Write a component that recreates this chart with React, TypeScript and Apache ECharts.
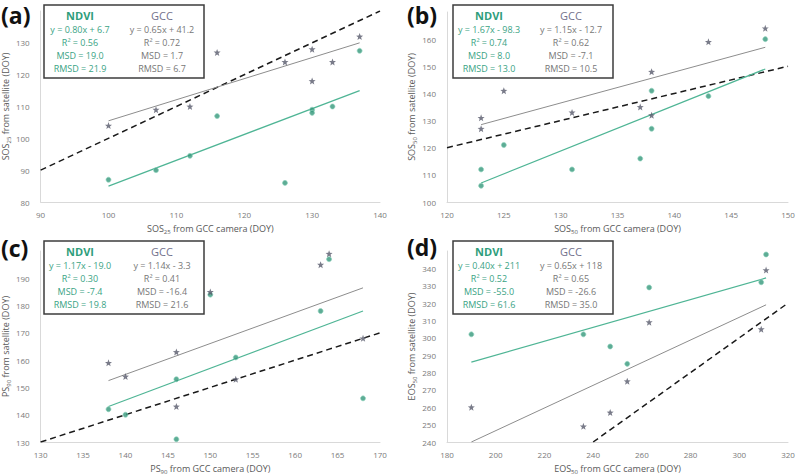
import React, { useEffect, useRef } from "react";
import * as echarts from "echarts";

// ---------- data ----------
// (a) SOS25
const aGcc = [[100, 104], [107, 109], [112, 110], [116, 127], [126, 124], [130, 128], [130, 118], [133, 124], [137, 132]];
const aNdvi = [[100, 87], [107, 90], [112, 94.5], [116, 107], [126, 86], [130, 109], [130, 108], [133, 110], [137, 127.5]];
const aGccFit = [[100, 105.5], [137, 130]];
const aNdviFit = [[100, 85], [137, 115]];
const aOneToOne = [[90, 90], [140, 140]];
const aNdviStats = ["y = 0.80x + 6.7", "R² = 0.56", "MSD = 19.0", "RMSD = 21.9"];
const aGccStats = ["y = 0.65x + 41.2", "R² = 0.72", "MSD = 1.7", "RMSD = 6.7"];

// (b) SOS50
const bGcc = [[123, 131], [123, 127], [125, 141], [131, 133], [137, 135], [138, 148], [138, 132], [143, 159], [148, 164]];
const bNdvi = [[123, 112], [123, 106], [125, 121], [131, 112], [137, 116], [138, 141], [138, 127], [143, 139], [148, 160]];
const bGccFit = [[123, 128.5], [148, 157]];
const bNdviFit = [[123, 107], [148, 149]];
const bOneToOne = [[120, 120], [150, 150]];
const bNdviStats = ["y = 1.67x - 98.3", "R² = 0.74", "MSD = 8.0", "RMSD = 13.0"];
const bGccStats = ["y = 1.15x - 12.7", "R² = 0.62", "MSD = -7.1", "RMSD = 10.5"];

// (c) PS90
const cGcc = [[138, 159], [140, 154], [146, 163], [146, 143], [150, 185], [153, 153], [163, 195], [164, 199], [168, 168]];
const cNdvi = [[138, 142], [140, 140], [146, 153], [146, 131], [150, 184], [153, 161], [163, 178], [164, 197], [168, 146]];
const cGccFit = [[138, 152.5], [168, 186.5]];
const cNdviFit = [[138, 143], [168, 178]];
const cOneToOne = [[130, 130], [170, 170]];
const cNdviStats = ["y = 1.17x - 19.0", "R² = 0.30", "MSD = -7.4", "RMSD = 19.8"];
const cGccStats = ["y = 1.14x - 3.3", "R² = 0.41", "MSD = -16.4", "RMSD = 21.6"];

// (d) EOS50
const dGcc = [[190, 260], [236, 249], [247, 257], [254, 275], [263, 309], [309, 305], [311, 339]];
const dNdvi = [[190, 302], [236, 302], [247, 295], [254, 285], [263, 329], [309, 332], [311, 348]];
const dGccFit = [[190, 240], [311, 319]];
const dNdviFit = [[190, 286], [311, 334.5]];
const dOneToOne = [[240, 240], [320, 320]];
const dNdviStats = ["y = 0.40x + 211", "R² = 0.52", "MSD = -55.0", "RMSD = 61.6"];
const dGccStats = ["y = 0.65x + 118", "R² = 0.65", "MSD = -26.6", "RMSD = 35.0"];

const panelLabels = ["(a)", "(b)", "(c)", "(d)"];
const metricNames = ["SOS", "SOS", "PS", "EOS"];
const metricSubs = ["25", "50", "90", "50"];
const xRanges = [[90, 140, 10], [120, 150, 5], [130, 170, 5], [180, 320, 20]];
const yRanges = [[80, 140, 10], [100, 170, 10], [130, 200, 10], [240, 350, 10]];

const FONT = "'Open Sans', 'Liberation Sans', sans-serif";
const GREEN = "#35977a";
const GREEN_LINE = "#4fb595";
const GREEN_TEXT = "#3aa384";
const GRAY_PT = "#575a6b";
const GRAY_LINE = "#8d8d8d";
const GCC_TEXT = "#72728c";
const STAR = "path://M0,-1 L0.25,-0.33 L0.95,-0.31 L0.4,0.12 L0.59,0.81 L0,0.42 L-0.59,0.81 L-0.4,0.12 L-0.95,-0.31 L-0.25,-0.33 Z";

const panels = [
  { gcc: aGcc, ndvi: aNdvi, gccFit: aGccFit, ndviFit: aNdviFit, one: aOneToOne, ns: aNdviStats, gs: aGccStats },
  { gcc: bGcc, ndvi: bNdvi, gccFit: bGccFit, ndviFit: bNdviFit, one: bOneToOne, ns: bNdviStats, gs: bGccStats },
  { gcc: cGcc, ndvi: cNdvi, gccFit: cGccFit, ndviFit: cNdviFit, one: cOneToOne, ns: cNdviStats, gs: cGccStats },
  { gcc: dGcc, ndvi: dNdvi, gccFit: dGccFit, ndviFit: dNdviFit, one: dOneToOne, ns: dNdviStats, gs: dGccStats },
];

// layout (pixels)
const layout = [
  { left: 38, top: 11, width: 342, height: 191, px: 1, py: 4 },
  { left: 447, top: 12, width: 341, height: 190, px: 407, py: 4 },
  { left: 38, top: 251, width: 342, height: 191, px: 1, py: 237 },
  { left: 447, top: 251, width: 341, height: 192, px: 407, py: 236 },
];

const rich = {
  m: { fontSize: 9, color: "#595959", fontFamily: FONT, lineHeight: 13 },
  s: { fontSize: 6, color: "#595959", fontFamily: FONT, lineHeight: 13, verticalAlign: "bottom", padding: [5, 0, 0, 0] },
};

function buildOption() {
  const grid: any[] = [];
  const xAxis: any[] = [];
  const yAxis: any[] = [];
  const series: any[] = [];
  const graphic: any[] = [];

  panels.forEach((p, i) => {
    const L = layout[i];
    grid.push({ left: L.left, top: L.top, width: L.width, height: L.height, containLabel: false });
    const axisCommon = {
      type: "value",
      gridIndex: i,
      axisLine: { show: true, lineStyle: { color: "#d9d9d9", width: 1 } },
      axisTick: { show: false },
      splitLine: { show: false },
      nameLocation: "middle",
      nameTextStyle: { rich },
    };
    xAxis.push({
      ...axisCommon,
      min: xRanges[i][0],
      max: xRanges[i][1],
      interval: xRanges[i][2],
      axisLabel: { color: "#7a7a7a", fontSize: 8, fontFamily: FONT, margin: 8 },
      name: `{m|${metricNames[i]}}{s|${metricSubs[i]}}{m| from GCC camera (DOY)}`,
      nameGap: 20,
    });
    yAxis.push({
      ...axisCommon,
      min: yRanges[i][0],
      max: yRanges[i][1],
      interval: yRanges[i][2],
      axisLabel: { color: "#7a7a7a", fontSize: 8, fontFamily: FONT, margin: 11, showMaxLabel: false },
      name: `{m|${metricNames[i]}}{s|${metricSubs[i]}}{m| from satellite (DOY)}`,
      nameGap: 28,
    });

    series.push({
      type: "line", xAxisIndex: i, yAxisIndex: i, data: p.one, symbol: "none", silent: true,
      lineStyle: { color: "#1a1a1a", width: 1.5, type: [6, 4] }, z: 2,
    });
    series.push({
      type: "line", xAxisIndex: i, yAxisIndex: i, data: p.gccFit, symbol: "none", silent: true,
      lineStyle: { color: GRAY_LINE, width: 1 }, z: 2,
    });
    series.push({
      type: "line", xAxisIndex: i, yAxisIndex: i, data: p.ndviFit, symbol: "none", silent: true,
      lineStyle: { color: GREEN_LINE, width: 1.2 }, z: 2,
    });
    series.push({
      type: "scatter", xAxisIndex: i, yAxisIndex: i, data: p.ndvi, symbol: "circle", symbolSize: 5,
      itemStyle: { color: GREEN, borderColor: "#8fd3bd", borderWidth: 0.8 }, z: 3,
    });
    series.push({
      type: "scatter", xAxisIndex: i, yAxisIndex: i, data: p.gcc, symbol: STAR, symbolSize: 7,
      itemStyle: { color: GRAY_PT }, z: 4,
    });

    // panel label
    graphic.push({
      type: "text", x: L.px, y: L.py, z: 10,
      style: { text: panelLabels[i], fontSize: 23, lineHeight: 22, fontWeight: "bold", fontFamily: FONT, fill: "#111", verticalAlign: "top" },
    });
    // stats box
    const bx = L.left + 6;
    const by = (i < 2 ? 0 : 236) + 5;
    const children: any[] = [
      { type: "rect", shape: { x: 0, y: 0, width: 160, height: 73 }, style: { fill: "#fff", stroke: "#3c3c3c", lineWidth: 1.5 } },
      { type: "text", x: 36, y: 10, style: { text: "NDVI", fontSize: 11, fontWeight: "bold", fill: "#2f9e7c", fontFamily: FONT, align: "center", verticalAlign: "middle" } },
      { type: "text", x: 118, y: 10, style: { text: "GCC", fontSize: 11, fill: GCC_TEXT, fontFamily: FONT, align: "center", verticalAlign: "middle" } },
    ];
    p.ns.forEach((t, k) => {
      children.push({ type: "text", x: 36, y: 24 + k * 13, style: { text: t, fontSize: 9, fill: GREEN_TEXT, fontFamily: FONT, align: "center", verticalAlign: "middle" } });
    });
    p.gs.forEach((t, k) => {
      children.push({ type: "text", x: 118, y: 24 + k * 13, style: { text: t, fontSize: 9, fill: "#777", fontFamily: FONT, align: "center", verticalAlign: "middle" } });
    });
    graphic.push({ type: "group", x: bx, y: by, z: 10, children });
  });

  return {
    animation: false,
    backgroundColor: "#ffffff",
    textStyle: { fontFamily: FONT },
    grid,
    xAxis,
    yAxis,
    series,
    graphic,
  };
}

export default function App() {
  const ref = useRef<HTMLDivElement>(null);
  useEffect(() => {
    if (!ref.current) return;
    const chart = echarts.init(ref.current, undefined, { renderer: "svg" });
    chart.setOption(buildOption() as any);
    return () => chart.dispose();
  }, []);
  return <div ref={ref} style={{ position: "absolute", left: 0, top: 0, width: 806, height: 476 }} />;
}
